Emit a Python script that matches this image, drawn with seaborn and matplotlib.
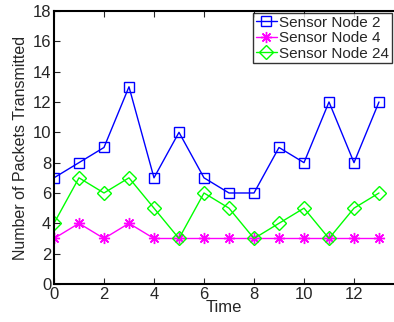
import matplotlib
matplotlib.use("Agg")
import matplotlib.pyplot as plt
import seaborn as sns
import pandas as pd

# valores
tiempo = list(range(14))
nodo2 = [7, 8, 9, 13, 7, 10, 7, 6, 6, 9, 8, 12, 8, 12]
nodo4 = [3, 4, 3, 4, 3, 3, 3, 3, 3, 3, 3, 3, 3, 3]
nodo24 = [4, 7, 6, 7, 5, 3, 6, 5, 3, 4, 5, 3, 5, 6]
etiquetas = ["Sensor Node 2", "Sensor Node 4", "Sensor Node 24"]

sns.set_style("ticks")
plt.rcParams["font.family"] = ["Liberation Sans", "DejaVu Sans"]

fig = plt.figure(figsize=(3.94, 3.22), dpi=100)
ax = fig.add_axes([0.137, 0.118, 0.863, 0.848])

estilos = [
    (nodo2, "#0000ff", "s", 7, "none"),
    (nodo4, "#ff00ff", (8, 2, 0), 8, "#ff00ff"),
    (nodo24, "#00ff00", "D", 7, "none"),
]
for (valores, color, marcador, tam, relleno), nombre in zip(estilos, etiquetas):
    df = pd.DataFrame({"Time": tiempo, "n": valores})
    sns.lineplot(data=df, x="Time", y="n", ax=ax, color=color, marker=marcador,
                 markersize=tam, markerfacecolor=relleno, markeredgecolor=color,
                 markeredgewidth=1.0, linewidth=1.0, label=nombre)

ax.set_xlim(0, 13.6)
ax.set_ylim(0, 18)
ax.set_xticks(range(0, 13, 2))
ax.set_yticks(range(0, 19, 2))
ax.tick_params(direction="in", top=True, right=False, labelsize=12, length=4,
               width=0.8, pad=2)
for lado in ["left", "bottom", "top"]:
    ax.spines[lado].set_linewidth(1.5)
    ax.spines[lado].set_color("black")
ax.spines["right"].set_visible(False)

ax.set_xlabel("Time", fontsize=12, labelpad=-1)
ax.set_ylabel("Number of Packets Transmitted", fontsize=11.5, labelpad=3)

leg = ax.legend(loc="upper right", fontsize=11, frameon=True, fancybox=False,
                borderpad=0.15, handlelength=1.4, handletextpad=0.15,
                labelspacing=0.1, borderaxespad=0.15)
leg.get_frame().set_edgecolor("black")
leg.get_frame().set_linewidth(1.0)

plt.savefig("out.png", dpi=100)
plt.close()
